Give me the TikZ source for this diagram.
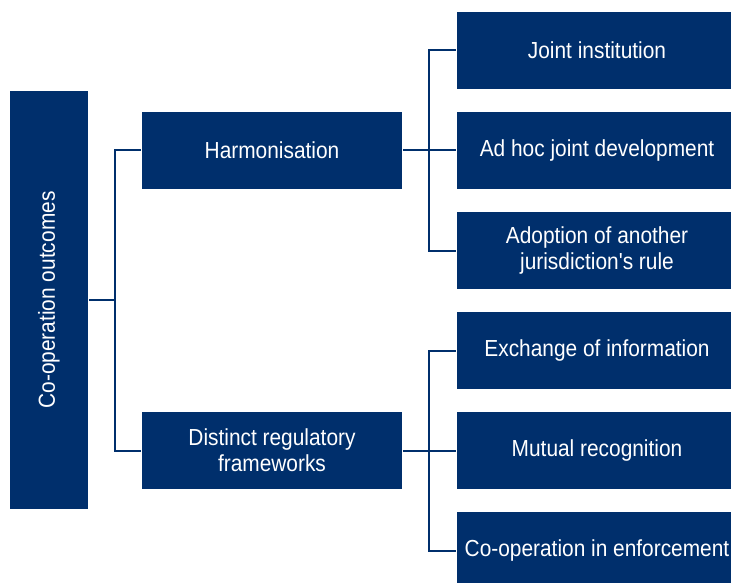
\documentclass[tikz,border=0pt]{standalone}
\usepackage{fontspec}
\newfontfamily\boxfont{Liberation Sans}[FakeStretch=0.9]
\definecolor{navy}{RGB}{0,47,108}
\tikzset{
  box/.style={fill=navy, draw=none, text=white, align=center, inner sep=0pt,
    font=\boxfont\fontsize{23.2}{26}\selectfont},
  rbox/.style={box, minimum width=280pt, minimum height=77pt},
  conn/.style={draw=navy, line width=2pt, line cap=rect}
}
\begin{document}
\begin{tikzpicture}[x=1pt,y=-1pt]
\useasboundingbox (0,0) rectangle (731,583);
\begin{scope}
\clip (0,0) rectangle (731,583);
% root
\node[box, minimum width=78pt, minimum height=418pt] (root) at (49,300) {};
\node[font=\boxfont\fontsize{23.2}{26}\selectfont, text=white, rotate=90] (roottext) at (root.center) {Co-operation outcomes};
% middle level
\node[box, minimum width=260pt, minimum height=77pt] (harm) at (272,150.5) {Harmonisation};
\node[box, minimum width=260pt, minimum height=77pt] (dist) at (272,450.5) {Distinct regulatory\\frameworks};
% right level
\node[rbox] (r1) at (597,50.5) {Joint institution};
\node[rbox] (r2) at (597,150.5) {Ad hoc joint development};
\node[rbox] (r3) at (597,250.5) {Adoption of another\\jurisdiction's rule};
\node[rbox] (r4) at (597,350.5) {Exchange of information};
\node[rbox] (r5) at (597,450.5) {Mutual recognition};
\node[rbox] (r6) at (597,550.5) {Co-operation in enforcement};
\end{scope}
% junctions
\coordinate (j1) at (115,300);
\coordinate (j2) at (429,150.5);
\coordinate (j3) at (429,450.5);
% connectors
\draw[conn, shorten <=2pt] (root.east) -- (j1);
\draw[conn, shorten <=2pt, shorten >=2pt] (harm.west) -| (j1) |- (dist.west);
\draw[conn, shorten <=2pt] (harm.east) -- (j2);
\draw[conn, shorten <=2pt, shorten >=2pt] (r1.west) -| (j2) |- (r3.west);
\draw[conn, shorten >=2pt] (j2) -- (r2.west);
\draw[conn, shorten <=2pt] (dist.east) -- (j3);
\draw[conn, shorten <=2pt, shorten >=2pt] (r4.west) -| (j3) |- (r6.west);
\draw[conn, shorten >=2pt] (j3) -- (r5.west);
\end{tikzpicture}
\end{document}
